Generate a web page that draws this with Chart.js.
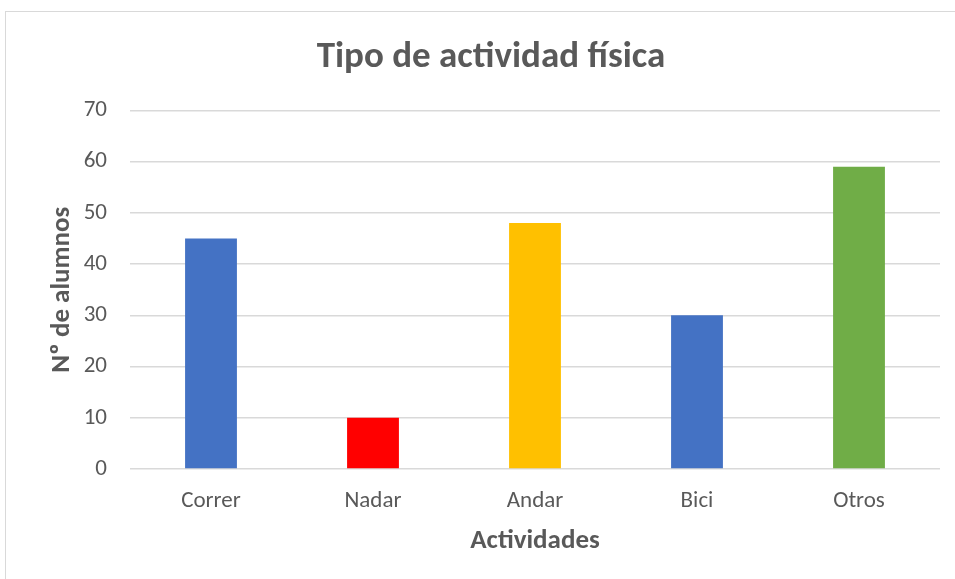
<!DOCTYPE html>
<html lang="es">
<head>
    <meta charset="UTF-8">
    <title>Tipo de actividad física</title>
    <script src="https://cdn.jsdelivr.net/npm/chart.js@4.4.1/dist/chart.umd.min.js"></script>
    <style>
        html, body { margin: 0; padding: 0; background: #fff; overflow: hidden; }
        #frame { position: absolute; left: 5px; top: 11px; width: 970px; height: 600px; border: 1px solid #d9d9d9; }
        #wrap { position: absolute; left: 0; top: 0; width: 955px; height: 579px; }
    </style>
</head>
<body>
    <div id="frame"></div>
    <div id="wrap"><canvas id="chart"></canvas></div>

    <script>
        const categories = ['Correr', 'Nadar', 'Andar', 'Bici', 'Otros'];
        const values = [45, 10, 48, 30, 59];
        const barColors = ['#4472C4', '#FF0000', '#FFC000', '#4472C4', '#70AD47'];
        const yTicks = [0, 10, 20, 30, 40, 50, 60, 70];

        const fontFamily = 'Carlito, Calibri, Lato, sans-serif';
        const textColor = '#595959';

        new Chart(document.getElementById('chart'), {
            type: 'bar',
            data: {
                labels: categories,
                datasets: [{
                    data: values,
                    backgroundColor: barColors,
                    borderWidth: 0,
                    barPercentage: 0.32,
                    categoryPercentage: 1
                }]
            },
            options: {
                responsive: true,
                maintainAspectRatio: false,
                animation: false,
                layout: { padding: { left: 42, right: 15, top: 36, bottom: 22 } },
                plugins: {
                    legend: { display: false },
                    tooltip: { enabled: false },
                    title: {
                        display: true,
                        text: 'Tipo de actividad física',
                        color: textColor,
                        font: { family: fontFamily, size: 37, weight: 'bold' },
                        padding: { top: 0, bottom: 30 }
                    }
                },
                scales: {
                    x: {
                        grid: { display: false },
                        border: { display: false },
                        ticks: { color: textColor, font: { family: fontFamily, size: 23 }, padding: 10 },
                        title: {
                            display: true,
                            text: 'Actividades',
                            color: textColor,
                            font: { family: fontFamily, size: 27, weight: 'bold' },
                            padding: { top: 0, bottom: 0 }
                        }
                    },
                    y: {
                        min: 0,
                        max: 70,
                        afterBuildTicks: axis => { axis.ticks = yTicks.map(v => ({ value: v })); },
                        afterFit: axis => { axis.width = 88; },
                        grid: { color: '#d9d9d9', lineWidth: 1.5, drawTicks: false },
                        border: { display: false },
                        ticks: { color: textColor, font: { family: fontFamily, size: 23 }, padding: 23 },
                        title: {
                            display: true,
                            text: 'Nº de alumnos',
                            color: textColor,
                            font: { family: fontFamily, size: 27, weight: 'bold' },
                            padding: { top: 4, bottom: 4 }
                        }
                    }
                }
            }
        });
    </script>
</body>
</html>
